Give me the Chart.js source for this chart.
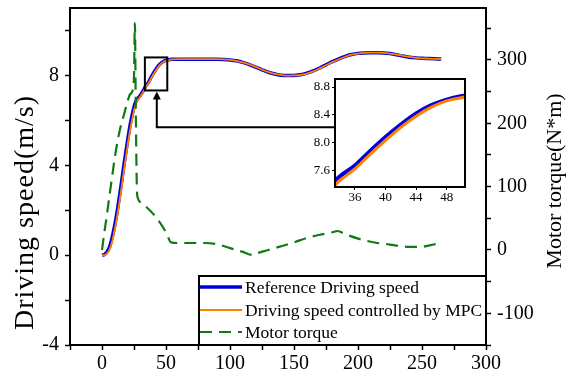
<!DOCTYPE html>
<html>
<head>
<meta charset="utf-8">
<script src="https://cdn.jsdelivr.net/npm/chart.js@4/dist/chart.umd.min.js"></script>
<style>
  body { margin: 0; background: #fff; }
  #wrap { position: relative; width: 574px; height: 379px; }
  #inset { position: absolute; left: 300px; top: 70px; }
</style>
</head>
<body>
<div id="wrap">
  <canvas id="myChart" width="574" height="379"></canvas>
  <canvas id="inset" width="175" height="140"></canvas>
</div>
<script>
// time (s) and speeds (m/s)
const tSpeed = [0,2,4,6,8,10,12,14,16,18,20,22,24,25,26,28,30,32,34,36,38,40,42,44,46,48,50,52,55,60,70,80,90,95,
  100,105,110,115,120,125,130,135,140,145,150,155,160,165,170,175,180,185,190,195,200,205,210,215,220,225,230,235,240,245,250,255,260,265];
const refSpeed = [0,0.03,0.15,0.38,0.8,1.35,2.0,2.75,3.55,4.35,5.1,5.8,6.35,6.6,6.78,6.97,7.12,7.3,7.51,7.67,7.88,8.08,8.26,8.42,8.54,8.62,8.67,8.7,8.72,8.72,8.72,8.72,8.72,8.71,
  8.69,8.65,8.58,8.48,8.37,8.25,8.14,8.06,8.01,7.99,8.0,8.03,8.1,8.2,8.33,8.47,8.61,8.74,8.85,8.93,8.98,9.0,9.01,9.01,9.0,8.97,8.92,8.86,8.81,8.78,8.76,8.75,8.74,8.73];
const mpcSpeed = [0,0.0,0.08,0.26,0.62,1.15,1.78,2.5,3.3,4.1,4.88,5.58,6.17,6.44,6.65,6.9,7.06,7.24,7.45,7.62,7.83,8.03,8.22,8.38,8.51,8.6,8.65,8.68,8.71,8.72,8.72,8.72,8.72,8.71,
  8.69,8.65,8.58,8.49,8.38,8.26,8.15,8.07,8.02,7.99,8.0,8.02,8.08,8.18,8.31,8.45,8.59,8.72,8.83,8.92,8.97,9.0,9.01,9.01,9.0,8.97,8.93,8.87,8.82,8.78,8.76,8.75,8.74,8.73];

// motor torque (N*m)
const tTorque = [0,2,4,6,8,10,12,14,16,18,20,22,24,25,25.7,26.4,27.3,28,30,35,40,45,50,54,60,70,80,90,100,110,118,120,130,140,150,160,170,180,184,190,200,210,215,220,230,240,245,250,255,260,265];
const torque = [0,30,58,88,117,146,170,190,205,220,235,246,252,275,358,220,95,82,75,67,57,44,28,12,11,11,11,9,3,-3,-8,-6,0,6,12,19,24,28,30,25,18,13,11,10,7,5,5,5,7,9,11];

const labels = ['Reference Driving speed', 'Driving speed controlled by MPC', 'Motor torque'];
const yTitle = 'Driving speed(m/s)';
const y1Title = 'Motor torque(N*m)';

// zoomed region marked on the main chart
const zoomBox = { t0: 33.5, t1: 51, v0: 7.33, v1: 8.8 };
const arrow = { t: 42.8, vLow: 5.69, tEnd: 183.6 };

const serif = 'Liberation Serif';
const BLUE = '#0000dc', ORANGE = '#ff8000', GREEN = '#107a10';

const pts = (xs, ys) => xs.map((x, i) => ({ x: x, y: ys[i] }));

const mainPlugin = {
  id: 'mainDeco',
  afterDatasetsDraw(chart) {
    const c = chart.ctx, x = chart.scales.x, y = chart.scales.y;
    c.save();
    c.strokeStyle = '#000';
    c.lineWidth = 2;
    // zoom box
    const bx0 = x.getPixelForValue(zoomBox.t0), bx1 = x.getPixelForValue(zoomBox.t1);
    const by0 = y.getPixelForValue(zoomBox.v1), by1 = y.getPixelForValue(zoomBox.v0);
    c.strokeRect(bx0, by0, bx1 - bx0, by1 - by0);
    // arrow
    const ax = x.getPixelForValue(arrow.t), ay = y.getPixelForValue(arrow.vLow);
    c.beginPath();
    c.moveTo(x.getPixelForValue(arrow.tEnd), ay);
    c.lineTo(ax, ay);
    c.lineTo(ax, by1 + 6);
    c.stroke();
    c.fillStyle = '#000';
    c.beginPath();
    c.moveTo(ax, by1 + 1);
    c.lineTo(ax - 4, by1 + 9);
    c.lineTo(ax + 4, by1 + 9);
    c.closePath();
    c.fill();
    c.restore();
  },
  afterDraw(chart) {
    const c = chart.ctx, a = chart.chartArea;
    c.save();
    c.strokeStyle = '#000';
    c.lineWidth = 2;
    c.strokeRect(a.left, a.top, a.right - a.left, a.bottom - a.top);
    // legend
    const lx = 199, ly = 276;
    c.fillStyle = '#fff';
    c.fillRect(lx, ly, a.right - lx, a.bottom - ly);
    c.strokeRect(lx, ly, a.right - lx, a.bottom - ly);
    const rows = [ly + 11, ly + 34, ly + 56];
    chart.data.datasets.forEach((d, i) => {
      c.beginPath();
      c.strokeStyle = d.borderColor;
      c.lineWidth = i === 0 ? 3.5 : 2;
      c.setLineDash(d.borderDash || []);
      c.moveTo(lx + 1, rows[i]);
      c.lineTo(lx + 43, rows[i]);
      c.stroke();
    });
    c.setLineDash([]);
    c.fillStyle = '#000';
    c.font = '17.5px "' + serif + '"';
    c.textBaseline = 'middle';
    labels.forEach((t, i) => c.fillText(t, lx + 46, rows[i] + 1));

    // axis titles
    c.textAlign = 'center';
    c.save();
    c.translate(26, 213);
    c.rotate(-Math.PI / 2);
    c.font = '28px "' + serif + '"';
    c.letterSpacing = '1px';
    c.fillText(yTitle, 0.5, 0);
    c.restore();
    c.save();
    c.translate(555, 181);
    c.rotate(-Math.PI / 2);
    c.font = '22px "' + serif + '"';
    c.fillText(y1Title, 0, 0);
    c.restore();
    c.restore();
  }
};

const tickFont = { family: serif, size: 20 };
const noPad = s => { s.paddingTop = 0; s.paddingBottom = 0; };

const chart = new Chart(document.getElementById('myChart').getContext('2d'), {
  type: 'line',
  data: {
    datasets: [
      { label: labels[0], data: pts(tSpeed, refSpeed), borderColor: BLUE, borderWidth: 3.5, yAxisID: 'y', order: 2 },
      { label: labels[1], data: pts(tSpeed, mpcSpeed), borderColor: ORANGE, borderWidth: 1.8, yAxisID: 'y', order: 1 },
      { label: labels[2], data: pts(tTorque, torque), borderColor: GREEN, borderWidth: 2.2, borderDash: [12, 7], yAxisID: 'y1', order: 0 }
    ]
  },
  options: {
    responsive: false,
    animation: false,
    devicePixelRatio: 1,
    layout: { padding: { top: 8, left: 0, right: 0, bottom: 0 } },
    elements: { point: { radius: 0 }, line: { cubicInterpolationMode: 'monotone' } },
    plugins: { legend: { display: false }, tooltip: { enabled: false } },
    scales: {
      x: {
        type: 'linear', min: -25, max: 300,
        afterFit: s => { s.height = 34; s.paddingLeft = 0; s.paddingRight = 0; },
        ticks: { stepSize: 25, color: '#000', font: tickFont, padding: 2, maxRotation: 0, autoSkip: false,
          callback: v => (v % 50 === 0 ? v : '') },
        grid: { drawOnChartArea: false, tickLength: 5, tickColor: '#000', tickWidth: 1.5 },
        border: { color: '#000', width: 2 }
      },
      y: {
        position: 'left', min: -4, max: 11,
        afterFit: s => { s.width = 70; noPad(s); },
        ticks: { stepSize: 2, includeBounds: false, color: '#000', font: tickFont, padding: 6,
          callback: v => (v % 4 === 0 ? v : '') },
        grid: { drawOnChartArea: false, tickLength: 5, tickColor: '#000', tickWidth: 1.5 },
        border: { color: '#000', width: 2 }
      },
      y1: {
        position: 'right', min: -150, max: 382,
        afterFit: s => { s.width = 88; noPad(s); },
        ticks: { stepSize: 50, includeBounds: false, color: '#000', font: tickFont, padding: 6,
          callback: v => (v % 100 === 0 ? v : '') },
        grid: { drawOnChartArea: false, tickLength: 5, tickColor: '#000', tickWidth: 1.5 },
        border: { color: '#000', width: 2 }
      }
    }
  },
  plugins: [mainPlugin]
});

// inset (zoom of 34 - 50 s)
const insetPlugin = {
  id: 'insetDeco',
  beforeDatasetsDraw(chart) {
    const c = chart.ctx, a = chart.chartArea;
    c.save();
    c.fillStyle = '#fff';
    c.fillRect(a.left, a.top, a.right - a.left, a.bottom - a.top);
    c.restore();
  },
  afterDraw(chart) {
    const c = chart.ctx, a = chart.chartArea;
    c.save();
    c.strokeStyle = '#000';
    c.lineWidth = 2;
    c.strokeRect(a.left, a.top, a.right - a.left, a.bottom - a.top);
    c.restore();
  }
};

const insetFont = { family: serif, size: 13 };

new Chart(document.getElementById('inset').getContext('2d'), {
  type: 'line',
  data: {
    datasets: [
      { data: pts(tSpeed, refSpeed), borderColor: BLUE, borderWidth: 4, order: 2 },
      { data: pts(tSpeed, mpcSpeed), borderColor: ORANGE, borderWidth: 3, order: 1 }
    ]
  },
  options: {
    responsive: false,
    animation: false,
    devicePixelRatio: 1,
    layout: { padding: { top: 9, right: 10, left: 0, bottom: 0 } },
    elements: { point: { radius: 0 }, line: { cubicInterpolationMode: 'monotone' } },
    plugins: { legend: { display: false }, tooltip: { enabled: false } },
    scales: {
      x: {
        type: 'linear', min: 33.4, max: 50.4,
        afterFit: s => { s.height = 23; s.paddingLeft = 0; s.paddingRight = 0; },
        ticks: { stepSize: 4, includeBounds: false, color: '#000', font: insetFont, padding: 0, maxRotation: 0 },
        grid: { drawOnChartArea: false, tickLength: 3, tickColor: '#000' },
        border: { color: '#000', width: 2 }
      },
      y: {
        min: 7.36, max: 8.916,
        afterFit: s => { s.width = 35; noPad(s); },
        ticks: { stepSize: 0.4, includeBounds: false, color: '#000', font: insetFont, padding: 2,
          callback: v => v.toFixed(1) },
        grid: { drawOnChartArea: false, tickLength: 3, tickColor: '#000' },
        border: { color: '#000', width: 2 }
      }
    }
  },
  plugins: [insetPlugin]
});
</script>
</body>
</html>
